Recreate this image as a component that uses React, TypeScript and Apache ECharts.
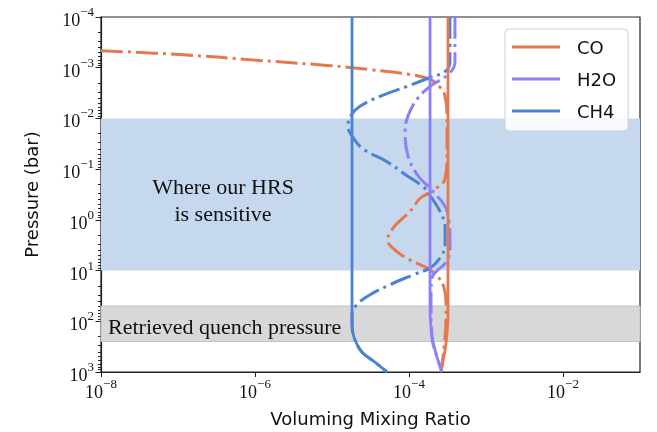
import React, { useEffect, useRef } from "react";
import * as echarts from "echarts";

// Legend / species
const speciesNames = ["CO", "H2O", "CH4"];

// Quenched profiles (solid): [volume mixing ratio, pressure (bar)]
const coQuenched: number[][] = [
  [3.21e-4, 1e-4], [3.21e-4, 80], [3.15e-4, 140], [3.0e-4, 300], [2.8e-4, 550], [2.6e-4, 1000],
];
const h2oQuenched: number[][] = [
  [1.875e-4, 1e-4], [1.875e-4, 61], [1.92e-4, 120], [1.99e-4, 207], [2.31e-4, 509], [2.69e-4, 1000],
];
const ch4Quenched: number[][] = [
  [1.82e-5, 1e-4], [1.82e-5, 115], [1.93e-5, 207], [2.45e-5, 406], [3.61e-5, 638], [5.18e-5, 1000],
];

// Equilibrium profiles (dash-dot)
const coEquilibrium: number[][] = [
  [1e-8, 4.62e-4], [1.06e-7, 5.5e-4], [1.16e-6, 7.2e-4], [9.4e-6, 9.1e-4], [3.1e-5, 1.09e-3],
  [1.03e-4, 1.36e-3], [1.87e-4, 1.7e-3], [2.53e-4, 2.44e-3], [2.94e-4, 3.66e-3], [3.12e-4, 9.0e-3],
  [3.12e-4, 0.0456], [2.94e-4, 0.154], [2.05e-4, 0.264], [1.39e-4, 0.379], [1.03e-4, 0.68],
  [6.2e-5, 1.46], [5.3e-5, 2.51], [6.6e-5, 3.94], [1.03e-4, 6.18], [1.71e-4, 8.86], [2.31e-4, 12.7],
  [2.85e-4, 21.8], [3.03e-4, 53.6], [2.94e-4, 207], [2.6e-4, 1000],
];
const h2oEquilibrium: number[][] = [
  [3.95e-4, 1e-4], [3.95e-4, 7.9e-4], [3.21e-4, 1.36e-3], [1.875e-4, 2.34e-3], [1.27e-4, 4.2e-3],
  [9.7e-5, 9.0e-3], [8.9e-5, 0.0185], [9.7e-5, 0.0547], [1.31e-4, 0.135], [2.05e-4, 0.277],
  [3.12e-4, 0.68], [3.41e-4, 3.14], [3.12e-4, 6.45], [2.31e-4, 10.1], [1.99e-4, 13.9],
  [1.93e-4, 34.2], [1.99e-4, 207], [2.31e-4, 509], [2.69e-4, 1000],
];
const ch4Equilibrium: number[][] = [
  [3.4e-4, 1e-4], [3.4e-4, 7.9e-4], [2.94e-4, 1.19e-3], [1.875e-4, 1.56e-3], [9.4e-5, 2.34e-3],
  [4.2e-5, 3.66e-3], [2.31e-5, 5.75e-3], [1.82e-5, 8.2e-3], [1.61e-5, 0.0142], [1.82e-5, 0.0222],
  [2.53e-5, 0.0398], [5.18e-5, 0.0716], [9.4e-5, 0.135], [1.52e-4, 0.221], [1.875e-4, 0.331],
  [2.53e-4, 0.68], [2.94e-4, 1.46], [2.94e-4, 3.14], [2.53e-4, 5.65], [1.875e-4, 8.86],
  [1.13e-4, 12.1], [5.66e-5, 19.0], [3.12e-5, 29.9], [2.11e-5, 46.9], [1.82e-5, 73.5],
  [1.82e-5, 115], [1.93e-5, 207], [2.45e-5, 406], [3.61e-5, 638], [5.18e-5, 1000],
];

// Shaded pressure ranges (bar)
const sensitiveRange = [1e-2, 10];
const quenchRange = [50, 250];

// Axis ticks
const xTickValues = [1e-8, 1e-6, 1e-4, 1e-2];
const yMajorTicks = [1e-4, 1e-3, 1e-2, 1e-1, 1, 10, 100, 1000];
const yMinorTicks: number[] = [];
for (let e = -4; e < 3; e++) for (let m = 2; m <= 9; m++) yMinorTicks.push(m * Math.pow(10, e));

const COLORS = { CO: "#E5784C", H2O: "#8C80FA", CH4: "#4A84D0" };
const DASHDOT = [22, 5, 3, 5];

const powLabel = (v: number) => {
  const e = Math.round(Math.log10(v));
  return `{b|10}{s|${e < 0 ? "\u2212" : ""}${Math.abs(e)}}`;
};
const labelRich = {
  b: { fontFamily: "Liberation Serif", fontSize: 18, color: "#111", verticalAlign: "bottom", padding: [6, 0, 0, 0] },
  s: { fontFamily: "Liberation Serif", fontSize: 13, color: "#111", verticalAlign: "top" },
};

export default function App() {
  const ref = useRef<HTMLDivElement>(null);
  useEffect(() => {
    if (!ref.current) return;
    const chart = echarts.init(ref.current, undefined, { renderer: "svg" });
    const solid = (name: string, data: number[][], color: string) => ({
      name, type: "line", data, showSymbol: false, smooth: 0.3, color, z: 4,
      lineStyle: { color, width: 2.8, type: "solid" },
    });
    const dashed = (name: string, data: number[][], color: string) => ({
      name, type: "line", data, showSymbol: false, smooth: 0.4, color, z: 3,
      lineStyle: { color, width: 3, type: DASHDOT },
    });
    chart.setOption({
      animation: false,
      grid: { left: 101, right: 17, top: 17, bottom: 57, show: true, borderColor: "#222", borderWidth: 1.2, backgroundColor: "transparent" },
      xAxis: {
        type: "log", logBase: 10, min: 1e-8, max: 1e-1,
        name: "Voluming Mixing Ratio", nameLocation: "middle", nameGap: 37,
        nameTextStyle: { fontFamily: "DejaVu Sans", fontSize: 18, color: "#111" },
        axisLine: { lineStyle: { color: "#222", width: 1.2 } },
        axisTick: { customValues: xTickValues, length: 5, lineStyle: { color: "#222" } },
        axisLabel: { customValues: xTickValues, formatter: powLabel, rich: labelRich, margin: 5 },
        splitLine: { show: false },
      },
      yAxis: [
        {
          type: "log", logBase: 10, min: 1e-4, max: 1e3, inverse: true, position: "left",
          name: "Pressure (bar)", nameLocation: "middle", nameGap: 61, nameRotate: 90,
          nameTextStyle: { fontFamily: "DejaVu Sans", fontSize: 18, color: "#111" },
          axisLine: { lineStyle: { color: "#222", width: 1.2 } },
          axisTick: { customValues: yMajorTicks, length: 5.5, lineStyle: { color: "#222" } },
          axisLabel: { customValues: yMajorTicks, formatter: powLabel, rich: labelRich, margin: 7 },
          splitLine: { show: false },
        },
        {
          type: "log", logBase: 10, min: 1e-4, max: 1e3, inverse: true, position: "left",
          axisLine: { show: false },
          axisTick: { customValues: yMinorTicks, length: 3, lineStyle: { color: "#222" } },
          axisLabel: { show: false },
          splitLine: { show: false },
        },
      ],
      legend: {
        data: speciesNames, orient: "vertical", left: 505, top: 29,
        itemWidth: 48, itemHeight: 3, itemGap: 14, icon: "rect",
        padding: [9, 12, 11, 7], borderColor: "#d0d0d0", borderWidth: 1, borderRadius: 4,
        backgroundColor: "rgba(255,255,255,0.85)",
        textStyle: { fontFamily: "DejaVu Sans", fontSize: 18, color: "#111", padding: [0, 0, 0, 12] },
      },
      series: [
        {
          name: "bands", type: "line", data: [], z: 1,
          markArea: {
            silent: true,
            data: [
              [{ yAxis: sensitiveRange[0], itemStyle: { color: "#C6D8EE" } }, { yAxis: sensitiveRange[1] }],
              [{ yAxis: quenchRange[0], itemStyle: { color: "#D8D8D8", borderColor: "#C2C2C2", borderWidth: 1 } }, { yAxis: quenchRange[1] }],
            ],
          },
        },
        dashed("CO eq", coEquilibrium, COLORS.CO),
        dashed("H2O eq", h2oEquilibrium, COLORS.H2O),
        dashed("CH4 eq", ch4Equilibrium, COLORS.CH4),
        solid("CO", coQuenched, COLORS.CO),
        solid("H2O", h2oQuenched, COLORS.H2O),
        solid("CH4", ch4Quenched, COLORS.CH4),
      ],
      graphic: [
        {
          type: "text", x: 223, y: 200, z: 10,
          style: { text: "Where our HRS\nis sensitive", font: '22px "Liberation Serif"', fill: "#111", textAlign: "center", textVerticalAlign: "middle", lineHeight: 27 },
        },
        {
          type: "text", x: 108, y: 326, z: 10,
          style: { text: "Retrieved quench pressure", font: '22px "Liberation Serif"', fill: "#111", textAlign: "left", textVerticalAlign: "middle" },
        },
      ],
    });
    return () => chart.dispose();
  }, []);
  return <div ref={ref} style={{ position: "fixed", left: 0, top: 0, width: 657, height: 432 }} />;
}
